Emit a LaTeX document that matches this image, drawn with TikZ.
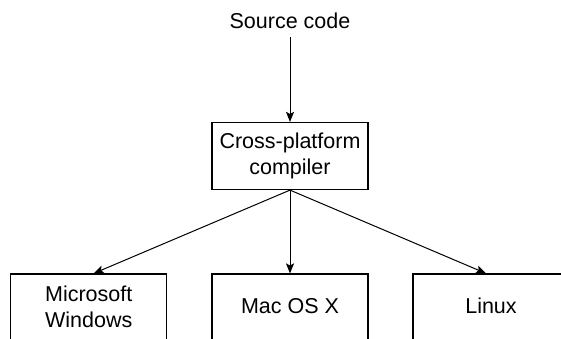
\documentclass[tikz,border=0pt]{standalone}
\usepackage{fontspec}
\setmainfont{Liberation Sans}
\usetikzlibrary{arrows.meta}
\tikzset{
  box/.style={draw=black, line width=1.2bp, fill=white, minimum width=156bp, inner sep=0pt, align=center, font=\fontsize{21.5bp}{25.7bp}\selectfont},
  lbl/.style={inner sep=0pt, font=\fontsize{21.5bp}{25.7bp}\selectfont},
  arr/.style={draw=black, line width=1bp, -{Stealth[length=10bp,width=8bp,inset=2bp]}}
}
\begin{document}
\begin{tikzpicture}[x=1bp,y=-1bp]
\useasboundingbox (0,0) rectangle (561,338);
\node[lbl, anchor=base] (src) at (290,28.3) {Source code};
\node[box, minimum height=67bp, baseline=0pt] (comp) at (290,156) {Cross-platform\\compiler};
\node[box, minimum height=66bp] (win) at (88.7,307) {Microsoft\\Windows};
\node[box, minimum height=66bp, text height=15.4bp, text depth=1.5bp] (mac) at (290,307) {Mac OS X};
\node[box, minimum height=66bp, text height=15.4bp, text depth=1.5bp] (lin) at (491,307) {Linux};
\draw[arr, shorten <=8.7bp] (src.south) -- (comp.north);
\draw[arr] (comp.south) -- ([xshift=5bp]win.north);
\draw[arr] (comp.south) -- (mac.north);
\draw[arr] (comp.south) -- ([xshift=-5bp]lin.north);
\end{tikzpicture}
\end{document}
